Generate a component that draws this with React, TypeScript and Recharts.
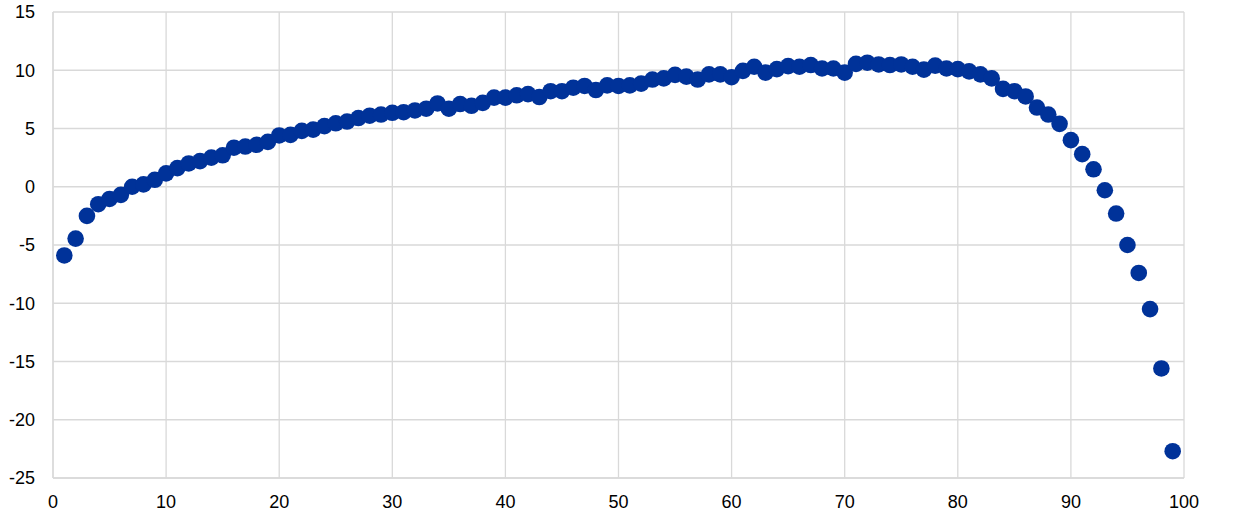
import {
  ScatterChart,
  Scatter,
  XAxis,
  YAxis,
  CartesianGrid,
} from "recharts";

const percentiles = [
  1, 2, 3, 4, 5, 6, 7, 8, 9, 10, 11, 12, 13, 14, 15, 16, 17, 18, 19, 20, 21, 22,
  23, 24, 25, 26, 27, 28, 29, 30, 31, 32, 33, 34, 35, 36, 37, 38, 39, 40, 41, 42,
  43, 44, 45, 46, 47, 48, 49, 50, 51, 52, 53, 54, 55, 56, 57, 58, 59, 60, 61, 62,
  63, 64, 65, 66, 67, 68, 69, 70, 71, 72, 73, 74, 75, 76, 77, 78, 79, 80, 81, 82,
  83, 84, 85, 86, 87, 88, 89, 90, 91, 92, 93, 94, 95, 96, 97, 98, 99,
];

const values = [
  -5.9, -4.45, -2.5, -1.5, -1.05, -0.7, 0.0, 0.2, 0.6, 1.15, 1.6, 2.0, 2.2, 2.5,
  2.7, 3.35, 3.45, 3.6, 3.85, 4.4, 4.45, 4.8, 4.9, 5.2, 5.45, 5.6, 5.9, 6.1, 6.2,
  6.35, 6.4, 6.55, 6.7, 7.15, 6.7, 7.1, 6.95, 7.2, 7.65, 7.65, 7.85, 7.95, 7.7,
  8.2, 8.2, 8.5, 8.65, 8.3, 8.7, 8.65, 8.7, 8.85, 9.2, 9.3, 9.6, 9.45, 9.2, 9.65,
  9.65, 9.4, 9.95, 10.3, 9.8, 10.1, 10.35, 10.3, 10.45, 10.15, 10.15, 9.8, 10.55,
  10.65, 10.5, 10.45, 10.5, 10.3, 10.05, 10.4, 10.15, 10.1, 9.9, 9.65, 9.3, 8.4,
  8.2, 7.75, 6.8, 6.2, 5.4, 4.0, 2.8, 1.5, -0.3, -2.3, -5.0, -7.4, -10.5, -15.6,
  -22.7,
];

const xTicks = [0, 10, 20, 30, 40, 50, 60, 70, 80, 90, 100];
const yTicks = [-25, -20, -15, -10, -5, 0, 5, 10, 15];

const data = percentiles.map((p, i) => ({ x: p, y: values[i] }));

const tickStyle = {
  fontSize: 18,
  fill: "#000",
  fontFamily: "'Liberation Sans', Arial, sans-serif",
};

const Dot = (props: any) => (
  <circle cx={props.cx} cy={props.cy} r={8.3} fill="#003299" />
);

export default function App() {
  return (
    <div style={{ position: "absolute", left: 0, top: 0, background: "#fff" }}>
      <ScatterChart
        width={1240}
        height={520}
        margin={{ top: 12, right: 56, bottom: 0, left: 0 }}
      >
        <CartesianGrid stroke="#d9d9d9" strokeWidth={1.3} />
        <XAxis
          type="number"
          dataKey="x"
          domain={[0, 100]}
          ticks={xTicks}
          interval={0}
          height={42}
          tickLine={false}
          tickSize={0}
          tickMargin={17}
          axisLine={{ stroke: "#d9d9d9", strokeWidth: 1.3 }}
          tick={tickStyle}
        />
        <YAxis
          type="number"
          dataKey="y"
          domain={[-25, 15]}
          ticks={yTicks}
          interval={0}
          width={53}
          tickLine={false}
          tickSize={0}
          tickMargin={18}
          axisLine={{ stroke: "#d9d9d9", strokeWidth: 1.3 }}
          tick={tickStyle}
        />
        <Scatter
          data={data}
          fill="#003299"
          shape={Dot}
          isAnimationActive={false}
        />
      </ScatterChart>
    </div>
  );
}
